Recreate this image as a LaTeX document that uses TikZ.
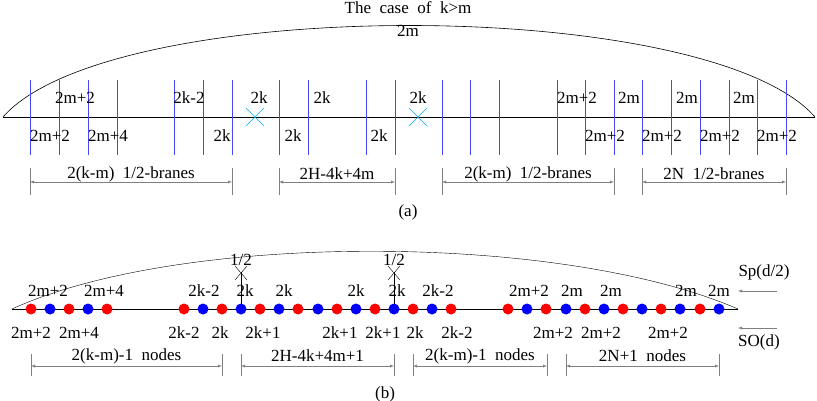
\documentclass[tikz,border=0pt]{standalone}
\usepackage{fontspec}
\setmainfont{Liberation Serif}
\usetikzlibrary{arrows}
\definecolor{branecol}{RGB}{70,70,255}
\begin{document}
\begin{tikzpicture}[x=1pt,y=-1pt,font=\fontsize{17}{19}\selectfont,
	brane/.style={draw=branecol, line width=1.2pt},
	dim/.style={gray, <->, >=latex},
	rdot/.style={circle, fill=red, inner sep=0pt, minimum size=11pt},
	bdot/.style={circle, fill=blue, inner sep=0pt, minimum size=11pt}]
	\useasboundingbox (0,0) rectangle (817,401);
	% (a) brane picture
	\coordinate (al) at (3,117);
	\coordinate (ar) at (815,117);
	\draw[thick] (al) -- (ar);
	\draw[semithick] (al) .. controls (110,-5) and (708,-5) .. (ar);
	\node (title) at (408,8) {The \ case \ of \ k>m};
	\node (top) at (408,31) {2m};
	\foreach \x in {30,59,88,117,174,203,232,279,308,366,395,442,470,499,557,585,614,642,671,700,729,757,786}
		\draw[brane] (\x+0.5,80) -- (\x+0.5,155);
	\foreach \x in {255,418}
		\draw[cyan, semithick] (\x-9,108) -- (\x+9,126) (\x-9,126) -- (\x+9,108);
	\foreach \x/\t in {75/2m+2,189/2k-2,259/2k,322/2k,418/2k,577/2m+2,629/2m,687/2m,744/2m}
		\node at (\x,98) {\t};
	\foreach \x/\t in {50/2m+2,108/2m+4,222/2k,293/2k,379/2k,605/2m+2,662/2m+2,720/2m+2,777/2m+2}
		\node at (\x,136) {\t};
	\foreach \a/\b/\t in {30/232/{2(k-m) \ 1/2-branes},279/395/{2H-4k+4m},442/614/{2(k-m) \ 1/2-branes},642/786/{2N \ 1/2-branes}}{
		\draw[gray] (\a,168) -- (\a,195) (\b,168) -- (\b,195);
		\draw[dim] (\a,182) -- (\b,182);
		\node at ({(\a+\b)/2},174) {\t};
	}
	\node (capa) at (408,212) {(a)};
	% (b) quiver
	\coordinate (bl) at (12,309);
	\coordinate (br) at (738,309);
	\draw (bl) -- (br);
	\draw (bl) .. controls (180,232) and (560,232) .. (br);
	\foreach \x in {241,394}{
		\draw (\x,309) -- (\x,272);
		\draw (\x-6,266) -- (\x+6,280) (\x-6,280) -- (\x+6,266);
		\node at (\x,260) {1/2};
	}
	\foreach \x/\c in {31/r,50/b,69/r,88/b,107/r,184/r,203/b,222/r,241/b,260/r,279/b,298/r,318/b,337/r,356/b,375/r,394/b,413/r,432/b,451/r,508/r,527/b,546/r,566/b,585/r,604/b,623/r,642/b,661/r,680/b,700/r,719/b}
		\node[\c dot] at (\x,309) {};
	\foreach \x/\t in {48/2m+2,104/2m+4,204/2k-2,245/2k,284/2k,356/2k,397/2k,438/2k-2,529/2m+2,572/2m,611/2m,686/2m,719/2m}
		\node at (\x,291) {\t};
	\foreach \x/\t in {31/2m+2,79/2m+4,184/2k-2,220/2k,263/2k+1,340/2k+1,383/2k+1,415/2k,457/2k-2,553/2m+2,601/2m+2,668/2m+2}
		\node at (\x,333) {\t};
	\foreach \a/\b/\t in {31/222/{2(k-m)-1 \ nodes},241/394/{2H-4k+4m+1},413/547/{2(k-m)-1 \ nodes},566/719/{2N+1 \ nodes}}{
		\draw[gray] (\a,354) -- (\a,376) (\b,354) -- (\b,376);
		\draw[dim] (\a,366) -- (\b,366);
		\node at ({(\a+\b)/2},356) {\t};
	}
	\node (sp) at (764,272) {Sp(d/2)};
	\node (so) at (759,342) {SO(d)};
	\coordinate (spt) at (777,291);
	\coordinate (spe) at (738,291);
	\coordinate (sot) at (777,328);
	\coordinate (soe) at (738,328);
	\draw[->, >=latex, gray] (spt) -- (spe);
	\draw[->, >=latex, gray] (sot) -- (soe);
	\node (capb) at (385,394) {(b)};
\end{tikzpicture}
\end{document}
